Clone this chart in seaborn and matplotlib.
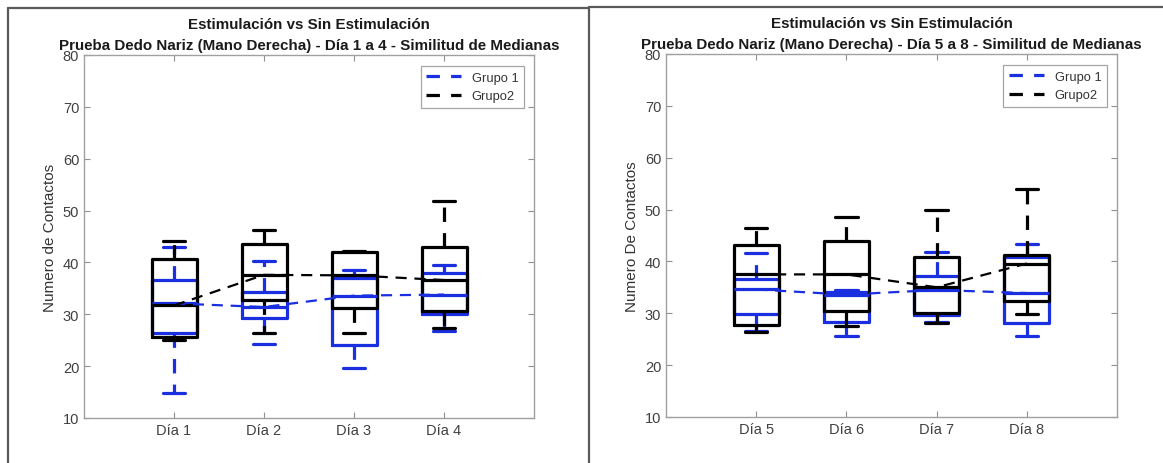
import numpy as np
import pandas as pd
import matplotlib
matplotlib.use("Agg")
import matplotlib.pyplot as plt
from matplotlib.lines import Line2D
import seaborn as sns

# ---------------- data ----------------
days_left = ["Día 1", "Día 2", "Día 3", "Día 4"]
days_right = ["Día 5", "Día 6", "Día 7", "Día 8"]
groups = ["Grupo 1", "Grupo2"]

# box statistics per day: lower whisker, q1, median, q3, upper whisker
g1_left_low = [14.9, 24.3, 19.6, 26.8]
g1_left_q1 = [26.3, 29.3, 24.1, 30.1]
g1_left_med = [32.1, 31.4, 33.6, 33.8]
g1_left_q3 = [36.6, 34.3, 37.0, 37.9]
g1_left_high = [43.0, 40.2, 38.5, 39.6]

g2_left_low = [25.0, 26.4, 26.4, 27.3]
g2_left_q1 = [25.7, 32.7, 31.3, 30.7]
g2_left_med = [31.7, 37.6, 37.5, 36.6]
g2_left_q3 = [40.7, 43.6, 42.0, 43.0]
g2_left_high = [44.2, 46.3, 42.3, 51.8]

g1_right_low = [26.6, 25.7, 28.3, 25.7]
g1_right_q1 = [29.9, 28.4, 29.7, 28.1]
g1_right_med = [34.6, 33.6, 34.5, 33.9]
g1_right_q3 = [36.6, 34.1, 37.2, 40.8]
g1_right_high = [41.6, 34.5, 41.9, 43.4]

g2_right_low = [26.3, 27.6, 28.1, 29.8]
g2_right_q1 = [27.7, 30.4, 30.0, 32.4]
g2_right_med = [37.5, 37.5, 35.0, 39.6]
g2_right_q3 = [43.1, 44.0, 40.8, 41.3]
g2_right_high = [46.4, 48.6, 50.0, 54.0]

yticks = [10, 20, 30, 40, 50, 60, 70, 80]

BLUE = "#1a2fe0"
BLACK = "#000000"

sns.set_style("white")
plt.rcParams["font.family"] = ["Liberation Sans", "DejaVu Sans"]

W, H = 1163, 464
fig = plt.figure(figsize=(W / 100, H / 100), dpi=100)

def px_axes(left, top, right, bottom):
    return fig.add_axes([left / W, 1 - bottom / H, (right - left) / W, (bottom - top) / H])

ax_l = px_axes(84, 56, 534, 419)
ax_r = px_axes(666, 55, 1117, 418)


def make_stats(low, q1, med, q3, high):
    return [dict(whislo=a, q1=b, med=c, q3=d, whishi=e, fliers=[])
            for a, b, c, d, e in zip(low, q1, med, q3, high)]


def draw_panel(ax, days, g1, g2, title, ylabel):
    pos = np.arange(1, len(days) + 1)
    for stats_vals, color in ((g1, BLUE), (g2, BLACK)):
        stats = make_stats(*stats_vals)
        ax.bxp(stats, positions=pos, widths=0.5, capwidths=0.25,
               showfliers=False, patch_artist=False,
               boxprops=dict(color=color, linewidth=2.3),
               whiskerprops=dict(color=color, linewidth=2.3, linestyle=(0, (4.5, 3.5))),
               capprops=dict(color=color, linewidth=2.3),
               medianprops=dict(color=color, linewidth=2.3))
    df = pd.DataFrame({
        "pos": np.concatenate([pos, pos]),
        "med": list(g1[2]) + list(g2[2]),
        "grupo": [groups[0]] * len(days) + [groups[1]] * len(days),
    })
    sns.lineplot(data=df, x="pos", y="med", hue="grupo",
                 palette={groups[0]: BLUE, groups[1]: BLACK},
                 linewidth=1.6, ax=ax, legend=False, zorder=5)
    for ln in ax.lines[-2:]:
        ln.set_linestyle((0, (5, 3.5)))

    ax.set_xlim(0, 5)
    ax.set_ylim(10, 80)
    ax.set_xticks(pos)
    ax.set_xticklabels(days)
    ax.set_yticks(yticks)
    ax.set_xlabel("")
    ax.set_ylabel(ylabel, fontsize=11, color="#333333", labelpad=4)
    ax.tick_params(direction="in", length=4, width=0.8, color="#909090",
                   labelcolor="#404040", labelsize=10.5,
                   top=True, right=True, bottom=True, left=True)
    for s in ax.spines.values():
        s.set_color("#a0a0a0")
        s.set_linewidth(1.0)
    ax.set_title(title, fontsize=10.9, fontweight="bold", linespacing=1.65,
                 pad=4, color="#1a1a1a")
    handles = [Line2D([], [], color=BLUE, linestyle=(0, (4.2, 3.5)), linewidth=2.3),
               Line2D([], [], color=BLACK, linestyle=(0, (4.2, 3.5)), linewidth=2.3)]
    leg = ax.legend(handles, groups, loc="upper right", fontsize=9.3,
                    frameon=True, fancybox=False, edgecolor="#909090",
                    handlelength=2.7, borderpad=0.45, labelspacing=0.5,
                    borderaxespad=0, bbox_to_anchor=(0.978, 0.970))
    leg.get_frame().set_linewidth(0.9)
    for t in leg.get_texts():
        t.set_color("#333333")


draw_panel(ax_l, days_left,
           (g1_left_low, g1_left_q1, g1_left_med, g1_left_q3, g1_left_high),
           (g2_left_low, g2_left_q1, g2_left_med, g2_left_q3, g2_left_high),
           "Estimulación vs Sin Estimulación\n"
           "Prueba Dedo Nariz (Mano Derecha) - Día 1 a 4 - Similitud de Medianas",
           "Numero de Contactos")
draw_panel(ax_r, days_right,
           (g1_right_low, g1_right_q1, g1_right_med, g1_right_q3, g1_right_high),
           (g2_right_low, g2_right_q1, g2_right_med, g2_right_q3, g2_right_high),
           "Estimulación vs Sin Estimulación\n"
           "Prueba Dedo Nariz (Mano Derecha) - Día 5 a 8 - Similitud de Medianas",
           "Numero De Contactos")

# panel frames
def fline(x0, y0, x1, y1):
    fig.add_artist(Line2D([x0 / W, x1 / W], [1 - y0 / H, 1 - y1 / H],
                          transform=fig.transFigure, color="#5a5a5a", linewidth=1.6))

fline(8, 9, 589, 9)
fline(8, 9, 8, 464)
fline(589, 8, 589, 464)
fline(589, 8, 1163, 8)

fig.savefig("out.png", dpi=100)
